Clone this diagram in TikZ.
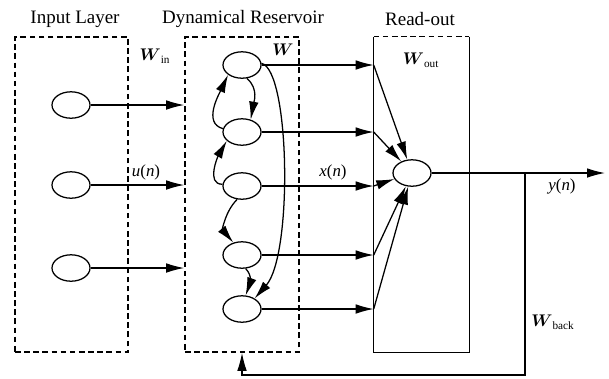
\documentclass[tikz,border=0pt]{standalone}
\usepackage{fontspec}
\setmainfont{Liberation Serif}
\usepackage{amsmath}
\usetikzlibrary{arrows.meta, positioning, shapes.geometric, calc}

\begin{document}
\begin{tikzpicture}[x=0.025cm, y=-0.025cm,
  neuron/.style={draw, ellipse, line width=0.9pt, minimum width=0.95cm,
                 minimum height=0.66cm, inner sep=0pt},
  layer/.style={minimum width=#1, minimum height=7.875cm, inner sep=0pt},
  dashbox/.style={draw, dash pattern=on 4pt off 2.5pt, line width=1.1pt},
  arr/.style={-{Latex[length=4.5mm,width=2.4mm]}, line width=0.9pt},
  ttl/.style={font=\fontsize{13.5}{16}\selectfont},
  lbl/.style={font=\fontsize{12}{14}\selectfont}
]
\useasboundingbox (0,0) rectangle (609,378);

% Layer boxes
\node[layer=2.825cm, dashbox] (inl)  at (71.5,194.5) {};
\node[layer=2.85cm,  dashbox] (resv) at (242,194.5)  {};
\node[layer=2.375cm]          (ro)   at (421.5,194.5) {};
\draw[dashbox] (ro.north west) -- (ro.north east);
\draw[line width=0.9pt] (ro.north east) -- (ro.south east) -- (ro.south west) -- (ro.north west);

% Titles
\node[ttl] (tin)  at (75,19)  {Input Layer};
\node[ttl] (tres) at (243,19) {Dynamical Reservoir};
\node[ttl] (tro)  at (420,19) {Read-out};

% Neurons
\foreach \i/\y in {1/105, 2/185, 3/268}
  \node[neuron] (in\i) at (71,\y) {};
\foreach \i/\y in {1/65, 2/132, 3/186, 4/255, 5/309}
  \node[neuron] (r\i) at (242,\y) {};
\node[neuron] (out) at (412,173) {};

% Input weights
\foreach \i in {1,2,3}
  \draw[arr] (in\i) -- (in\i -| resv.west);

% Reservoir to read-out
\foreach \i in {1,...,5} {
  \coordinate (k\i) at (r\i -| ro.west);
  \draw[arr] (r\i) -- (k\i);
  \draw[arr] (k\i) -- (out);
}

% Internal reservoir connections
\draw[arr] (r1.-70) to[out=-40, in=80] (r2.55);
\draw[arr] (r2.170) to[out=165, in=245] (r1.215);
\draw[arr] (r3.175) to[out=180, in=240] (r2.210);
\draw[arr] (r3.250) to[out=225, in=130] (r4.125);
\draw[arr] (r4.-75) to[out=-45, in=70] (r5.75);
\draw[arr] (r1.5) .. controls (290,70) and (293,255) .. (r5.40);

% Output and feedback
\coordinate (yend) at (605,173);
\coordinate (fb)   at (525,173);
\coordinate (fbb)  at (525,375);
\draw[arr] (out) -- (yend);
\draw[arr] (fb) -- (fbb) -| (resv.south);

% Labels
\node[lbl] (win)   at (155,56)  {$\boldsymbol{W}_{\mathrm{in}}$};
\node[lbl] (un)    at (146,172) {\textit{u}(\textit{n})};
\node[lbl] (wres)  at (283,50)  {$\boldsymbol{W}$};
\node[lbl] (xn)    at (333,172) {\textit{x}(\textit{n})};
\node[lbl] (wout)  at (421,60)  {$\boldsymbol{W}_{\mathrm{out}}$};
\node[lbl] (yn)    at (562,186) {\textit{y}(\textit{n})};
\node[lbl] (wback) at (553,322) {$\boldsymbol{W}_{\mathrm{back}}$};
\end{tikzpicture}
\end{document}
